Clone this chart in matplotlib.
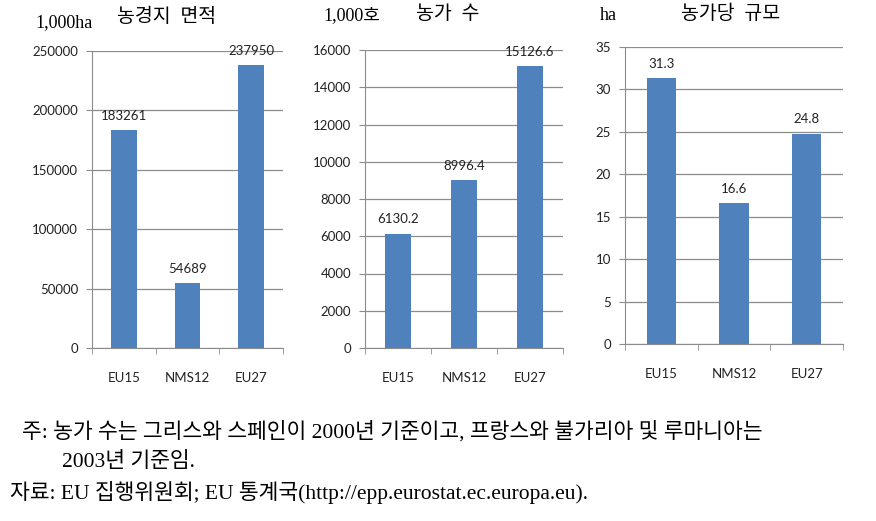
import matplotlib
matplotlib.use("Agg")
import matplotlib.pyplot as plt

# datos
categorias = ["EU15", "NMS12", "EU27"]
superficie = [183261, 54689, 237950]
explotaciones = [6130.2, 8996.4, 15126.6]
tamano = [31.3, 16.6, 24.8]

etiquetas_sup = ["183261", "54689", "237950"]
etiquetas_exp = ["6130.2", "8996.4", "15126.6"]
etiquetas_tam = ["31.3", "16.6", "24.8"]

titulos = ["농경지  면적", "농가  수", "농가당  규모"]
unidades = ["1,000ha", "1,000호", "ha"]

nota1 = "주: 농가 수는 그리스와 스페인이 2000년 기준이고, 프랑스와 불가리아 및 루마니아는"
nota2 = "2003년 기준임."
fuente = "자료: EU 집행위원회; EU 통계국(http://epp.eurostat.ec.europa.eu)."

W, H = 876, 521
fig = plt.figure(figsize=(W / 100, H / 100), dpi=100)

serif_kr = ["Liberation Serif", "Noto Sans CJK KR"]
sans = ["Lato", "DejaVu Sans"]
azul = "#4F81BD"
gris = "#8C8C8C"
letra = 9.5


def panel(izq, der, arriba, abajo, valores, etiquetas, ymax, paso):
    ax = fig.add_axes([izq / W, 1 - abajo / H, (der - izq) / W, (abajo - arriba) / H])
    x = range(len(categorias))
    barras = ax.bar(x, valores, width=0.4, color=azul, zorder=3)
    for b, t in zip(barras, etiquetas):
        ax.annotate(t, (b.get_x() + b.get_width() / 2, b.get_height()),
                    xytext=(0, 6), textcoords="offset points",
                    ha="center", va="bottom", fontsize=letra, family=sans, color="#222222")
    ax.set_xlim(-0.5, len(categorias) - 0.5)
    ax.set_ylim(0, ymax)
    ax.set_yticks(range(0, ymax + 1, paso))
    ax.set_xticks(list(x))
    ax.set_xticklabels(categorias)
    ax.set_xticks([-0.5, 0.5, 1.5, 2.5], minor=True)
    ax.tick_params(axis="x", which="major", length=0, pad=17, labelsize=letra)
    ax.tick_params(axis="x", which="minor", length=4, color=gris)
    ax.tick_params(axis="y", length=4, color=gris, labelsize=letra, pad=6)
    for lab in ax.get_xticklabels() + ax.get_yticklabels():
        lab.set_family(sans)
        lab.set_color("#222222")
    ax.grid(axis="y", color=gris, linewidth=0.9, zorder=0)
    for s in ["top", "right"]:
        ax.spines[s].set_visible(False)
    for s in ["left", "bottom"]:
        ax.spines[s].set_color(gris)
    return ax


panel(92, 283, 51, 348, superficie, etiquetas_sup, 250000, 50000)
panel(365, 563, 50, 348, explotaciones, etiquetas_exp, 16000, 2000)
panel(625, 843, 47, 344, tamano, etiquetas_tam, 35, 5)

# titulos y unidades
pos_tit = [(167, 17), (448, 14), (731, 14)]
pos_uni = [(35, 23), (323, 16), (600, 16)]
for t, (px, py) in zip(titulos, pos_tit):
    fig.text(px / W, 1 - py / H, t, ha="center", va="center", fontsize=14, family=serif_kr)
for u, (px, py) in zip(unidades, pos_uni):
    fig.text(px / W, 1 - py / H, u, ha="left", va="center", fontsize=13, family=serif_kr)

# notas
fig.text(22 / W, 1 - 432 / H, nota1, ha="left", va="center", fontsize=15.5, family=serif_kr)
fig.text(62 / W, 1 - 462 / H, nota2, ha="left", va="center", fontsize=15.5, family=serif_kr)
fig.text(10 / W, 1 - 493 / H, fuente, ha="left", va="center", fontsize=15.5, family=serif_kr)

fig.savefig("out.png", dpi=100)
